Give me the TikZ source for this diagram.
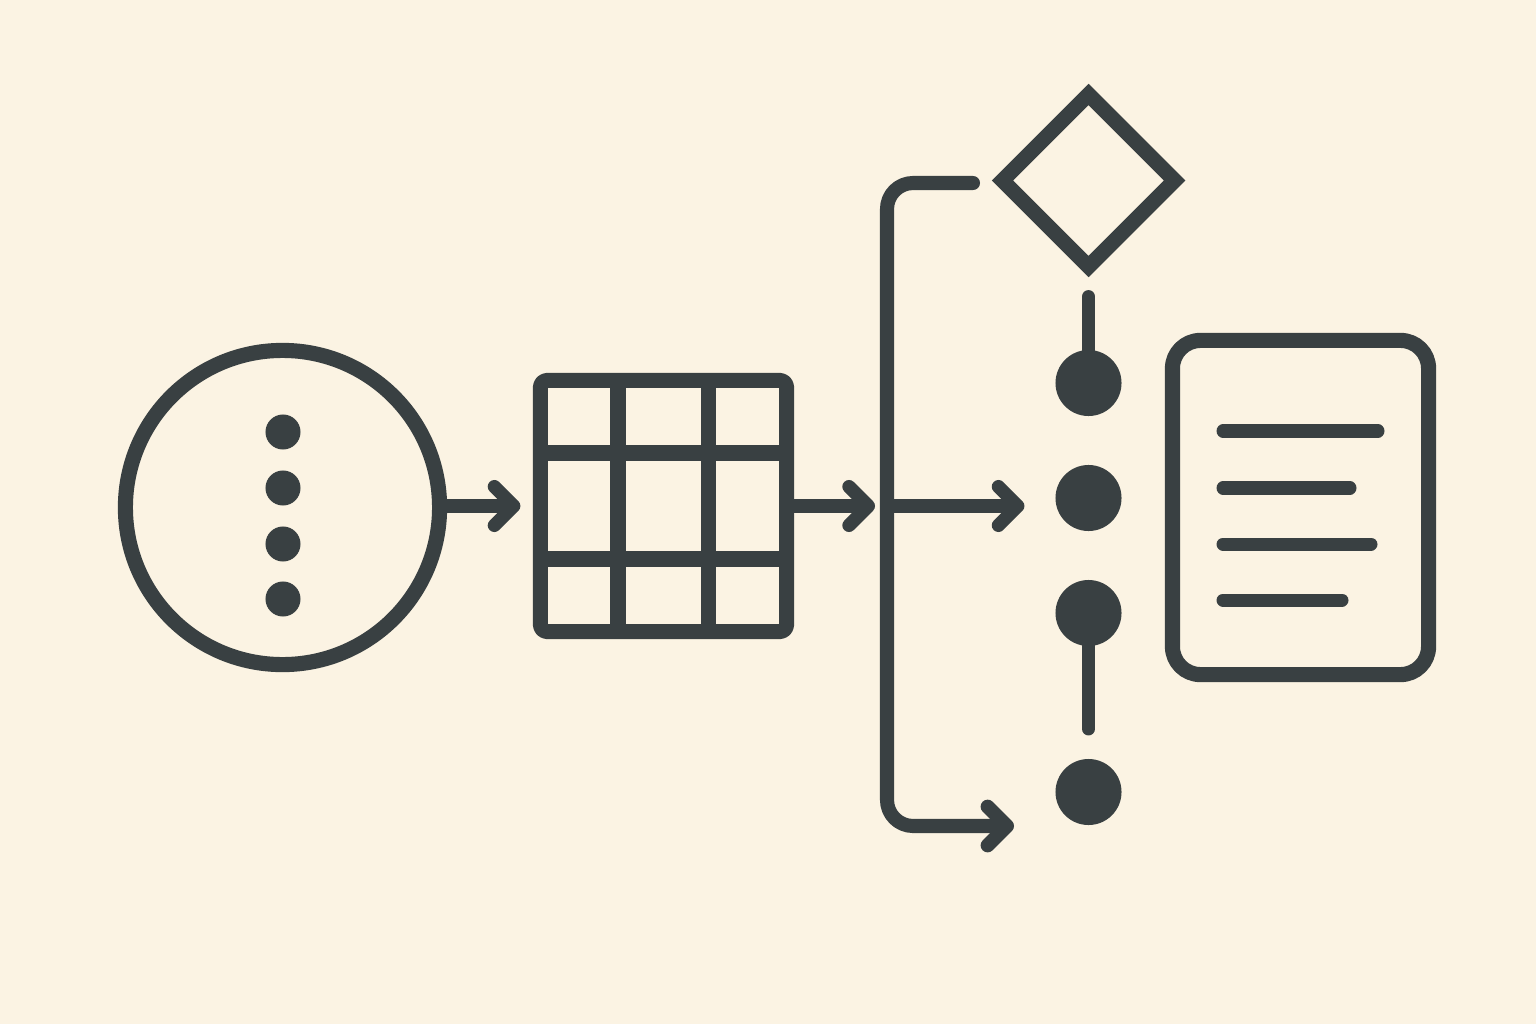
\documentclass[tikz,border=0pt]{standalone}
\usetikzlibrary{arrows.meta,shapes.geometric}
\definecolor{bgc}{RGB}{251,243,227}
\definecolor{ink}{RGB}{57,64,66}
\begin{document}
\begin{tikzpicture}[x=0.01cm,y=-0.01cm,
  every node/.style={outer sep=0pt,inner sep=0pt},
  ln/.style={draw=ink,line width=4.3pt,line cap=round,line join=round},
  thin ln/.style={draw=ink,line width=3.7pt,line cap=round},
  arr/.style={draw=ink,line width=3.8pt,line cap=round,line join=round,-{Straight Barb[round,length=5.5pt,width=11pt]}},
  dot/.style={circle,fill=ink,minimum size=0.35cm},
  bigdot/.style={circle,fill=ink,minimum size=0.66cm}]
\fill[bgc] (0,0) rectangle (1536,1024);
\useasboundingbox (0,0) rectangle (1536,1024);
% source circle
\node[circle,ln,minimum size=3.14cm] (src) at (282.5,507.5) {};
\node[dot] (d1) at (283,432) {};
\node[dot] (d2) at (283,488) {};
\node[dot] (d3) at (283,544) {};
\node[dot] (d4) at (283,599) {};
% grid
\node[ln,rectangle,rounded corners=2pt,minimum width=2.46cm,minimum height=2.51cm] (grid) at (663.5,506) {};
\draw[ln,line cap=butt] (618,380.5) -- (618,631.5);
\draw[ln,line cap=butt] (708.5,380.5) -- (708.5,631.5);
\draw[ln,line cap=butt] (540.5,453) -- (786.5,453);
\draw[ln,line cap=butt] (540.5,559) -- (786.5,559);
% arrows
\coordinate (split) at (887,506);
\draw[arr,shorten >=0.2cm] (src.east |- split) -- (grid.west |- split);
\draw[arr] (grid.east |- split) -- (875,506);
% bracket
\coordinate (btop) at (973,183);
\coordinate (bcornerT) at (887,183);
\coordinate (bcornerB) at (887,826);
\coordinate (bend) at (1014,826);
\draw[arr,line width=4pt,rounded corners=0.26cm] (btop) -- (bcornerT) -- (bcornerB) -- (bend);
% diamond
\node[diamond,ln,line join=miter,aspect=1,minimum size=1.72cm] (dia) at (1088.5,180.5) {};
% circles
\node[bigdot] (c1) at (1088.5,383) {};
\node[bigdot] (c2) at (1088.5,498) {};
\node[bigdot] (c3) at (1088.5,613) {};
\node[bigdot] (c4) at (1088.5,792) {};
\draw[arr,shorten >=0.31cm] (split) -- (c2.west |- split);
\draw[thin ln,shorten <=0.3cm] (dia.south) -- (c1);
\draw[thin ln,shorten >=0.3cm] (c3) -- (c4.north);
% document
\node[ln,rectangle,rounded corners=0.28cm,minimum width=2.56cm,minimum height=3.34cm] (doc) at (1300.5,507.5) {};
\draw[thin ln] (1223,431) -- (1378,431);
\draw[thin ln] (1223,488) -- (1350,488);
\draw[thin ln] (1223,544) -- (1371,544);
\draw[thin ln] (1223,600) -- (1342,600);
\end{tikzpicture}
\end{document}
